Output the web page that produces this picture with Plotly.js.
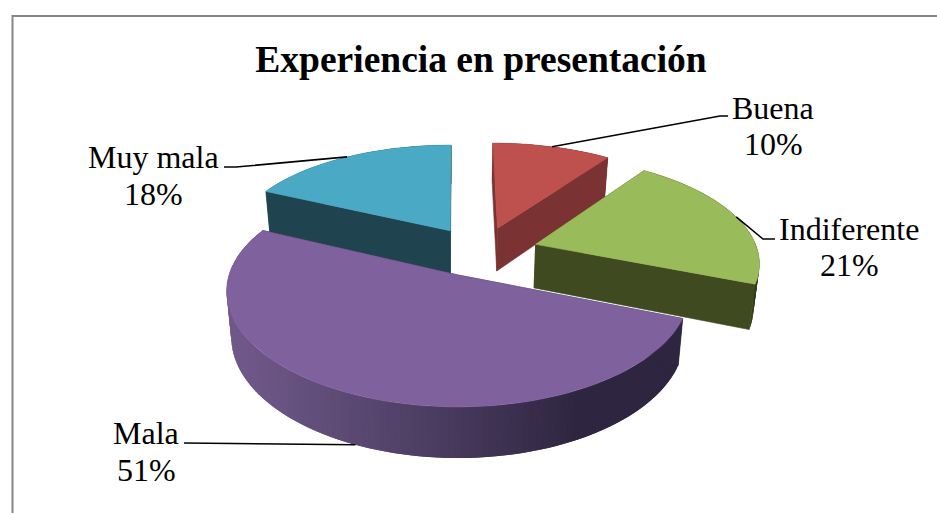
<!DOCTYPE html>
<html>
<head>
<meta charset="utf-8">
<script src="https://cdn.plot.ly/plotly-3.0.1.min.js"></script>
<style>html,body{margin:0;padding:0;background:#fff}#chart{width:937px;height:513px}</style>
</head>
<body>
<div id="chart"></div>
<script>
// Survey result, slices listed clockwise from twelve o'clock
const categories = ['Buena', 'Indiferente', 'Mala', 'Muy mala'];
const percentages = [10, 21, 51, 18];
const topColors = ['#BE504D', '#9ABB59', '#7F619E', '#4AA9C4'];
const sideColors = ['#7A3232', '#3F4A20', '#2E2640', '#1F444F'];
const drawOrder = [0, 3, 1, 2];

// Perspective settings for the tilted disc
const view = {
  cx: 458, cy: 275, rx: 229, ry: 111.5,
  focalX: 7, focalY: 6.45, depth: 45, taper: 0.02,
  explodeU: 0.26, explodeV: 0.24
};

const rad = d => d * Math.PI / 180;
const total = percentages.reduce((a, b) => a + b, 0);
let running = 0;
const slices = percentages.map((p, i) => {
  const start = running * 360 / total;
  running += p;
  const end = running * 360 / total;
  return {i, start, end, mid: (start + end) / 2};
});

// The largest slice stays at the projection origin; the others move relative to it
const anchor = slices[2];
slices.forEach(s => {
  s.ox = view.explodeU * (Math.sin(rad(s.mid)) - Math.sin(rad(anchor.mid)));
  s.oy = view.explodeV * (Math.cos(rad(s.mid)) - Math.cos(rad(anchor.mid)));
});

function project(s, angle, r, lower) {
  const u = s.ox + r * Math.sin(rad(angle));
  const v = s.oy + r * Math.cos(rad(angle));
  const kx = view.focalX / (view.focalX + v);
  const ky = view.focalY / (view.focalY + v);
  const x = view.rx * u * kx * (lower ? 1 - view.taper : 1);
  const y = -view.ry * v * ky + (lower ? view.depth * Math.pow(ky, 0.75) : 0);
  return [view.cx + x, view.cy + y];
}

function polygon(points, color, width) {
  return {
    type: 'scatter', mode: 'lines', fill: 'toself', fillcolor: color,
    x: points.map(p => p[0]), y: points.map(p => p[1]),
    line: {color: color, width: width}, hoverinfo: 'skip', showlegend: false
  };
}

function mix(a, b, t) {
  const ca = [1, 3, 5].map(n => parseInt(a.substr(n, 2), 16));
  const cb = [1, 3, 5].map(n => parseInt(b.substr(n, 2), 16));
  return 'rgb(' + ca.map((c, n) => Math.round(c + (cb[n] - c) * t)).join(',') + ')';
}

// Outer wall shading runs from a lit left edge to a dark right edge
const wallLit = ['#8E4A48', '#586A30', '#6F5889', '#2E6474'];
const wallDark = ['#5E2625', '#333C1A', '#2E2640', '#183640'];

const traces = [];
drawOrder.forEach(idx => {
  const s = slices[idx];
  const step = 1.5;
  for (let a = s.start; a < s.end; a += step) {
    // Each strip runs under the next one so no seam shows between them
    const b = Math.min(a + step * 2, s.end);
    const t0 = project(s, a, 1, false), t1 = project(s, b, 1, false);
    const b1 = project(s, b, 1, true), b0 = project(s, a, 1, true);
    const t = Math.min(1, Math.max(0, (Math.min(t0[0], t1[0]) - 240) / 330));
    traces.push(polygon([t0, t1, b1, b0, t0], mix(wallLit[idx], wallDark[idx], t), 0));
  }
  [s.start, s.end].forEach(edge => {
    traces.push(polygon([
      project(s, 0, 0, false), project(s, edge, 1, false),
      project(s, edge, 1, true), project(s, 0, 0, true), project(s, 0, 0, false)
    ], sideColors[idx], 0.6));
  });
  const face = [project(s, 0, 0, false)];
  for (let a = s.start; a < s.end; a += 2) face.push(project(s, a, 1, false));
  face.push(project(s, s.end, 1, false), project(s, 0, 0, false));
  traces.push(polygon(face, topColors[idx], 0.6));
});

// Leader lines run from each slice's mid-angle on the rim to its label
const leaderBends = [[[720, 116], [728, 116]], [[763, 239], [775, 239]], [[184, 443], [184, 443]], [[236, 167], [224, 167]]];
slices.forEach(s => {
  const start = project(s, s.mid, 1, s.i === 2);
  const pts = [start].concat(leaderBends[s.i]);
  traces.push({
    type: 'scatter', mode: 'lines', x: pts.map(p => p[0]), y: pts.map(p => p[1]),
    line: {color: '#000', width: 1.6}, hoverinfo: 'skip', showlegend: false
  });
});

const labelCenters = [[773, 108, 144], [849, 229, 265], [146, 433, 470], [153, 157, 194]];
const labelFont = {family: '"Liberation Serif", serif', size: 32, color: '#000'};
const annotations = [];
slices.forEach(s => {
  const c = labelCenters[s.i];
  annotations.push({xref: 'x', yref: 'y', x: c[0], y: c[1], text: categories[s.i], showarrow: false,
    xanchor: 'center', yanchor: 'middle', font: labelFont});
  annotations.push({xref: 'x', yref: 'y', x: c[0], y: c[2], text: percentages[s.i] + '%', showarrow: false,
    xanchor: 'center', yanchor: 'middle', font: labelFont});
});

const layout = {
  width: 937, height: 513, autosize: false,
  margin: {l: 0, r: 0, t: 0, b: 0},
  paper_bgcolor: '#fff', plot_bgcolor: '#fff',
  showlegend: false,
  title: {
    text: '<b>Experiencia en presentación</b>',
    font: {family: '"Liberation Serif", serif', size: 37.5, color: '#000'},
    xref: 'paper', yref: 'paper', x: 481 / 937, xanchor: 'center', y: 1 - 59 / 513, yanchor: 'middle'
  },
  xaxis: {range: [0, 937], visible: false, fixedrange: true},
  yaxis: {range: [513, 0], visible: false, fixedrange: true},
  shapes: [{
    type: 'path', xref: 'x', yref: 'y', path: 'M 12.5 513 L 12.5 16 L 937 16',
    line: {color: '#868686', width: 2}
  }],
  annotations: annotations
};

Plotly.newPlot('chart', traces, layout, {displayModeBar: false, staticPlot: true});
</script>
</body>
</html>
